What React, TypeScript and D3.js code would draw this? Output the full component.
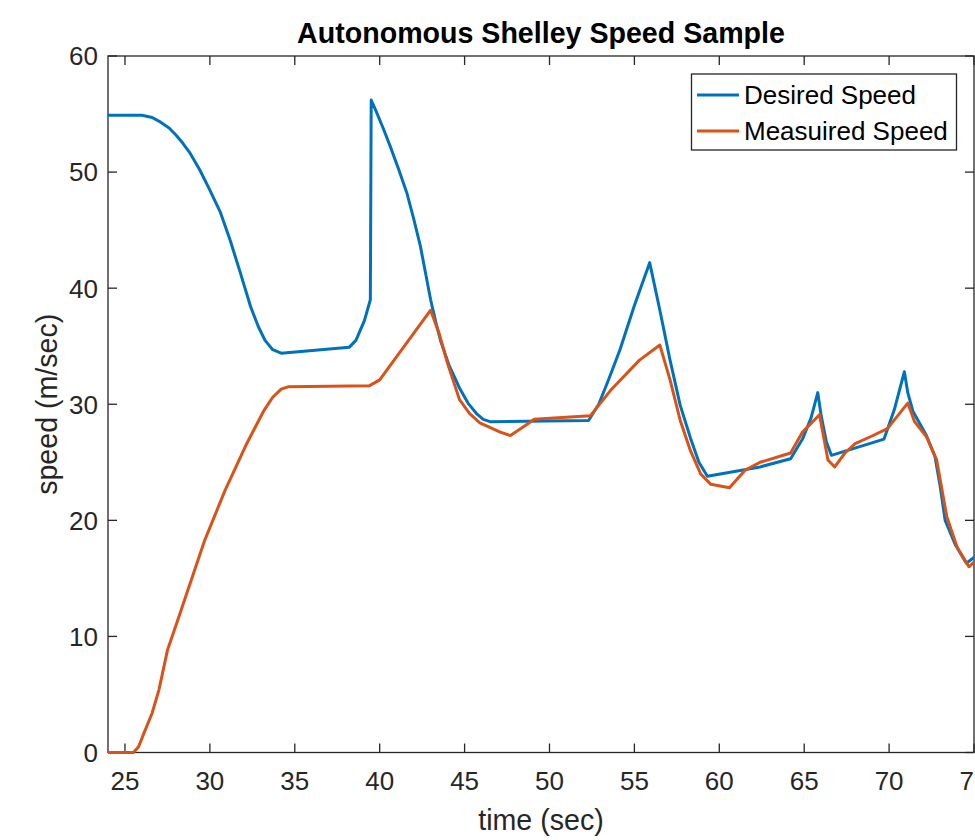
import React from "react";
import * as d3 from "d3";

// Desired speed profile: [time (sec), speed (m/sec)]
const desiredSpeed: [number, number][] = [
  [24, 54.9], [26.0, 54.9], [26.6, 54.7], [27.1, 54.3], [27.6, 53.8], [28.0, 53.2],
  [28.4, 52.5], [28.8, 51.7], [29.4, 50.2], [29.95, 48.6], [30.6, 46.6], [31.2, 44.1],
  [31.8, 41.3], [32.4, 38.4], [32.85, 36.7], [33.25, 35.5], [33.7, 34.7], [34.2, 34.4],
  [38.2, 34.9], [38.6, 35.5], [39.1, 37.2], [39.45, 39.0], [39.5, 56.2], [39.8, 55.2],
  [40.2, 53.8], [40.6, 52.3], [41.1, 50.3], [41.6, 48.2], [42.0, 46.0], [42.4, 43.6],
  [42.7, 41.3], [43.0, 39.0], [43.3, 37.1], [43.6, 35.4], [44.1, 33.3], [44.7, 31.4],
  [45.2, 30.1], [45.7, 29.2], [46.1, 28.7], [46.5, 28.5], [52.3, 28.6], [52.9, 30.0],
  [53.5, 32.2], [54.15, 34.7], [55.0, 38.5], [55.9, 42.2], [56.5, 38.1], [57.1, 33.8],
  [57.7, 29.9], [58.3, 27.1], [58.8, 25.0], [59.3, 23.8], [62.4, 24.6], [64.2, 25.3],
  [64.9, 27.0], [65.4, 28.8], [65.8, 31.0], [66.0, 29.0], [66.3, 26.8], [66.6, 25.6],
  [69.7, 27.0], [70.3, 29.5], [70.9, 32.8], [71.1, 31.0], [71.4, 29.4], [72.2, 27.3],
  [72.7, 25.5], [73.0, 23.0], [73.3, 20.0], [73.9, 17.9], [74.55, 16.3], [75, 16.8],
];

// Measured speed: [time (sec), speed (m/sec)]
const measuredSpeed: [number, number][] = [
  [24, 0], [25.5, 0], [25.8, 0.5], [26.1, 1.6], [26.6, 3.4], [27.0, 5.4], [27.5, 8.8],
  [28.2, 11.8], [28.8, 14.4], [29.7, 18.3], [30.9, 22.6], [32.1, 26.4], [32.7, 28.1],
  [33.2, 29.5], [33.7, 30.6], [34.2, 31.3], [34.6, 31.5], [39.4, 31.6], [40.0, 32.1],
  [43.0, 38.1], [43.5, 36.1], [44.0, 33.5], [44.7, 30.4], [45.3, 29.2], [45.9, 28.4],
  [47.1, 27.6], [47.7, 27.3], [48.6, 28.2], [49.1, 28.7], [52.4, 29.0], [53.6, 31.2],
  [55.3, 33.8], [56.5, 35.1], [57.1, 32.1], [57.7, 28.6], [58.3, 26.0], [58.9, 24.0],
  [59.5, 23.1], [60.6, 22.8], [61.5, 24.3], [62.4, 25.0], [64.2, 25.8], [64.9, 27.6],
  [65.9, 29.1], [66.4, 25.2], [66.8, 24.6], [67.4, 25.8], [68.0, 26.6], [68.9, 27.2],
  [69.9, 27.9], [71.1, 30.1], [71.5, 28.5], [72.2, 27.2], [72.8, 25.2], [73.4, 20.3],
  [74.0, 17.7], [74.7, 16.0], [75, 16.4],
];

const xTicks = [25, 30, 35, 40, 45, 50, 55, 60, 65, 70, 75];
const yTicks = [0, 10, 20, 30, 40, 50, 60];
const seriesNames = ["Desired Speed", "Measuired Speed"];
const seriesColors = ["#0072BD", "#D95319"];

const W = 975;
const H = 840;
const left = 108;
const right = 974;
const top = 56;
const bottom = 752.5;
const axisColor = "#262626";
const font = "'Liberation Sans', Arial, Helvetica, sans-serif";

export default function App() {
  const x = d3.scaleLinear().domain([24, 75]).range([left, right]);
  const y = d3.scaleLinear().domain([0, 60]).range([bottom, top]);
  const line = d3
    .line<[number, number]>()
    .x((d) => x(d[0]))
    .y((d) => y(d[1]));
  const tickLen = 9;

  return (
    <div style={{ position: "absolute", left: 0, top: 0 }}>
      <svg width={W} height={H} style={{ display: "block", background: "#fff" }}>
        <defs>
          <clipPath id="plot-area">
            <rect x={left} y={top - 3} width={right - left} height={bottom - top + 6} />
          </clipPath>
        </defs>

        {/* title */}
        <text
          x={(left + right) / 2}
          y={43}
          textAnchor="middle"
          fontFamily={font}
          fontWeight="bold"
          fontSize={28.6}
          fill="#000"
        >
          Autonomous Shelley Speed Sample
        </text>

        {/* axes box */}
        <rect
          x={left}
          y={top}
          width={right - left}
          height={bottom - top}
          fill="none"
          stroke={axisColor}
          strokeWidth={1.3}
        />

        {/* x ticks */}
        {xTicks.map((t) => (
          <g key={`x${t}`}>
            <line x1={x(t)} x2={x(t)} y1={bottom} y2={bottom - tickLen} stroke={axisColor} strokeWidth={1.3} />
            <line x1={x(t)} x2={x(t)} y1={top} y2={top + tickLen} stroke={axisColor} strokeWidth={1.3} />
            <text
              x={x(t)}
              y={790}
              textAnchor="middle"
              fontFamily={font}
              fontSize={26}
              fill={axisColor}
            >
              {t}
            </text>
          </g>
        ))}

        {/* y ticks */}
        {yTicks.map((t) => (
          <g key={`y${t}`}>
            <line x1={left} x2={left + tickLen} y1={y(t)} y2={y(t)} stroke={axisColor} strokeWidth={1.3} />
            <line x1={right} x2={right - tickLen} y1={y(t)} y2={y(t)} stroke={axisColor} strokeWidth={1.3} />
            <text
              x={98}
              y={y(t)}
              dy="0.36em"
              textAnchor="end"
              fontFamily={font}
              fontSize={26}
              fill={axisColor}
            >
              {t}
            </text>
          </g>
        ))}

        {/* data lines */}
        <g clipPath="url(#plot-area)" fill="none" strokeLinejoin="round" strokeLinecap="round">
          <path d={line(desiredSpeed) ?? ""} stroke={seriesColors[0]} strokeWidth={3} />
          <path d={line(measuredSpeed) ?? ""} stroke={seriesColors[1]} strokeWidth={3} />
        </g>

        {/* axis labels */}
        <text
          x={(left + right) / 2}
          y={830}
          textAnchor="middle"
          fontFamily={font}
          fontSize={28.6}
          fill={axisColor}
        >
          time (sec)
        </text>
        <text
          transform={`translate(57, ${(top + bottom) / 2}) rotate(-90)`}
          textAnchor="middle"
          fontFamily={font}
          fontSize={28.6}
          fill={axisColor}
        >
          speed (m/sec)
        </text>

        {/* legend */}
        <g>
          <rect x={691.5} y={74} width={265} height={76} fill="#fff" stroke={axisColor} strokeWidth={1.3} />
          {seriesNames.map((name, i) => (
            <g key={name}>
              <line
                x1={697}
                x2={739}
                y1={95 + i * 36}
                y2={95 + i * 36}
                stroke={seriesColors[i]}
                strokeWidth={3}
              />
              <text
                x={744}
                y={95 + i * 36}
                dy="0.36em"
                fontFamily={font}
                fontSize={26}
                fill="#000"
              >
                {name}
              </text>
            </g>
          ))}
        </g>
      </svg>
    </div>
  );
}
